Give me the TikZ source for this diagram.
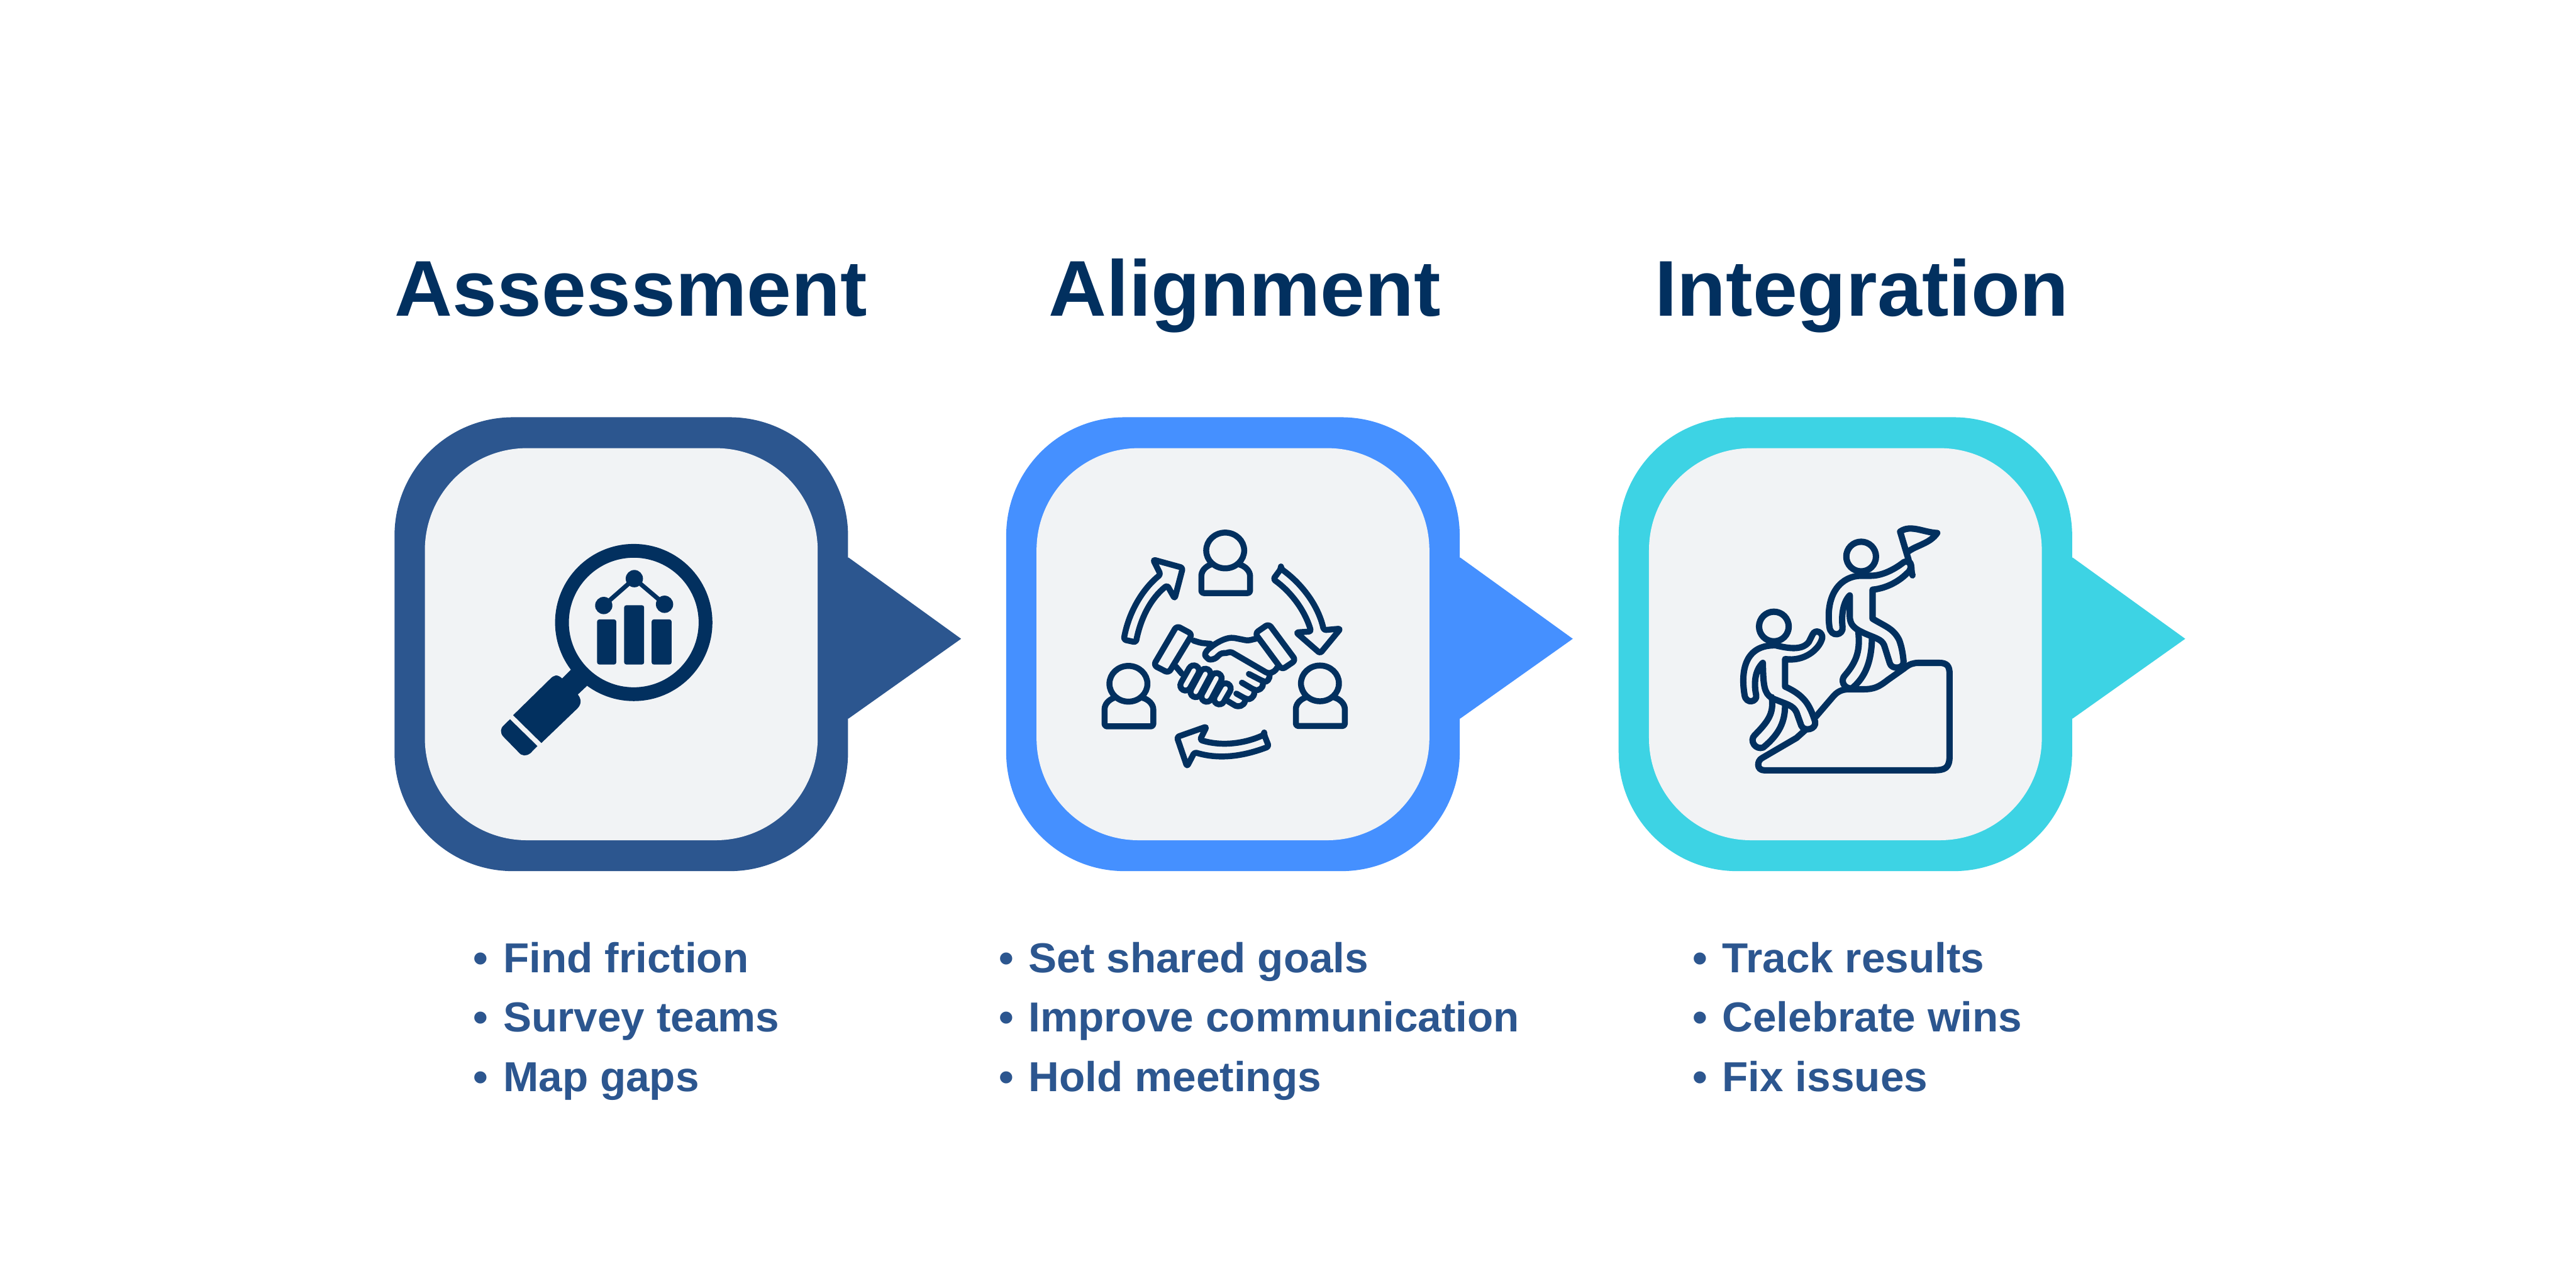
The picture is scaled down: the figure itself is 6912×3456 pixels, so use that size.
\documentclass[tikz,border=0pt]{standalone}
\usepackage{fontspec}
\setmainfont[FakeStretch=1.014]{Liberation Sans}
\usetikzlibrary{positioning, calc}
\definecolor{navy}{HTML}{02305F}
\definecolor{steel}{HTML}{2C568F}
\definecolor{azure}{HTML}{4590FF}
\definecolor{aqua}{HTML}{3DD3E4}
\definecolor{panel}{HTML}{F1F3F5}
\newcommand{\listdot}{\makebox[11.4pt][l]{\textbullet}}

\begin{document}
\begin{tikzpicture}[x=0.005cm, y=-0.005cm]
	\tikzset{
		framebox/.style={rounded corners=1.59cm, minimum width=6.09cm, minimum height=6.095cm, inner sep=0pt},
		innerbox/.style={fill=panel, rounded corners=1.37cm, minimum width=5.275cm, minimum height=5.265cm, inner sep=0pt},
		heading/.style={anchor=base west, inner sep=0pt, text=navy, font=\fontsize{30.2}{36}\selectfont\bfseries},
		listitem/.style={anchor=base west, inner sep=0pt, text=steel, font=\fontsize{16}{20}\selectfont\bfseries},
		iconline/.style={draw=navy, line width=0.08cm, line join=round, line cap=round, rounded corners=0.03cm},
		cuffline/.style={iconline, rounded corners=0.05cm},
		climbline/.style={draw=navy, line width=0.085cm, line join=round, line cap=round}
	}
	\useasboundingbox (0,0) rectangle (6912,3456);
	\fill[white] (0,0) rectangle (6912,3456);

	% Headings
	\node[heading] (assesstitle) at (1058,848) {Assessment};
	\node[heading] (aligntitle) at (2813,848) {Alignment};
	\node[heading] (integtitle) at (4439,848) {Integration};

	% Outer frames
	\node[framebox, fill=steel] (assess) at (1667,1728.5) {};
	\node[framebox, fill=azure, right=2.11cm of assess] (align) {};
	\node[framebox, fill=aqua, right=2.12cm of align] (integ) {};

	% Pointers
	\coordinate (assesstip) at ($(assess.east)+(302,-14.5)$);
	\coordinate (aligntip) at ($(align.east)+(302,-14.5)$);
	\coordinate (integtip) at ($(integ.east)+(302,-14.5)$);
	\fill[steel] ($(assess.east)+(-10,-232.5)$) -- ($(assess.east)+(0,-232.5)$) -- (assesstip) -- ($(assess.east)+(0,199.5)$) -- ($(assess.east)+(-10,199.5)$) -- cycle;
	\fill[azure] ($(align.east)+(-10,-232.5)$) -- ($(align.east)+(0,-232.5)$) -- (aligntip) -- ($(align.east)+(0,199.5)$) -- ($(align.east)+(-10,199.5)$) -- cycle;
	\fill[aqua] ($(integ.east)+(-10,-232.5)$) -- ($(integ.east)+(0,-232.5)$) -- (integtip) -- ($(integ.east)+(0,199.5)$) -- ($(integ.east)+(-10,199.5)$) -- cycle;

	% Inner panels
	\node[innerbox] (assesspanel) at (assess) {};
	\node[innerbox] (alignpanel) at (align) {};
	\node[innerbox] (integpanel) at (integ) {};

	% Magnifier icon
	\begin{scope}[shift={(1000,1080)}, xscale=1.0526, yscale=0.8291]
		\draw[navy, line width=0.185cm] (665.5,712) ellipse (183 and 232);
		\fill[navy, rounded corners=0.03cm] (572,702) rectangle (621,848);
		\fill[navy, rounded corners=0.03cm] (641,656) rectangle (692,848);
		\fill[navy, rounded corners=0.03cm] (711,702) rectangle (762,848);
		\draw[navy, line width=0.06cm] (589,657) -- (667,570) -- (744,653);
		\fill[navy] (589,657) ellipse (22 and 28);
		\fill[navy] (667,570) ellipse (22 and 28);
		\fill[navy] (744,653) ellipse (22 and 28);
		\fill[navy] (505,865) -- (483,893) .. controls (470,878) and (462,882) .. (452,895) -- (358,1012) -- (430,1102) -- (522,990) .. controls (533,975) and (532,960) .. (523,945) -- (548,915) -- cycle;
		\fill[navy] (350,1025) -- (420,1112) -- (402,1135) .. controls (392,1145) and (380,1145) .. (372,1132) -- (332,1080) .. controls (325,1068) and (325,1055) .. (334,1045) -- cycle;
	\end{scope}

	% Handshake icon: people and arrows
	\begin{scope}[shift={(2850,1350)}, xscale=0.5421, yscale=0.5102]
		% people
		\draw[iconline] (807,249) ellipse (94 and 94);
		\draw[iconline] (738,322) .. controls (705,335) and (689,360) .. (689,395) -- (689,473) -- (930,473) -- (930,395) .. controls (930,360) and (910,332) .. (875,322);
		\draw[iconline] (328,950) ellipse (94 and 94);
		\draw[iconline] (259,1023) .. controls (226,1036) and (210,1061) .. (210,1096) -- (210,1174) -- (451,1174) -- (451,1096) .. controls (451,1061) and (431,1033) .. (396,1023);
		\draw[iconline] (1276,948) ellipse (94 and 94);
		\draw[iconline] (1207,1021) .. controls (1174,1034) and (1157,1059) .. (1157,1094) -- (1157,1172) -- (1399,1172) -- (1399,1094) .. controls (1399,1059) and (1379,1031) .. (1344,1021);
		% arrows
		\draw[iconline] (305,718) .. controls (330,570) and (400,450) .. (487,375) -- (450,297) -- (597,340) -- (557,502) -- (520,432) .. controls (440,500) and (390,600) .. (365,732) -- cycle;
		\draw[iconline] (1083,345) -- (1045,400) .. controls (1130,465) and (1200,560) .. (1232,675) -- (1158,680) -- (1277,790) -- (1378,660) -- (1295,668) .. controls (1265,530) and (1180,420) .. (1083,345) -- cycle;
		\draw[iconline] (1000,1218) -- (1023,1280) .. controls (900,1330) and (780,1350) .. (655,1310) -- (618,1385) -- (568,1230) -- (715,1175) -- (682,1245) .. controls (790,1280) and (900,1265) .. (1000,1218) -- cycle;
	\end{scope}

	% Handshake icon: hands
	\begin{scope}[shift={(3100,1640)}, xscale=0.3333, yscale=0.3333]
		% cuffs
		\draw[cuffline] (172,118) -- (297,185) -- (107,497) -- (-14,435) -- cycle;
		\draw[cuffline] (913,102) -- (1130,395) -- (1019,470) -- (803,178) -- cycle;
		% hands
		\draw[iconline] (308,237) -- (370,256) -- (445,262);
		\draw[iconline] (815,220) -- (745,237) -- (630,214) .. controls (560,215) and (490,255) .. (440,295) .. controls (405,325) and (395,350) .. (415,375) .. controls (440,395) and (480,385) .. (505,360) -- (535,335) -- (565,340) -- (605,325) -- (905,500) .. controls (940,495) and (970,480) .. (980,455);
		\draw[iconline] (753,505) -- (865,563) .. controls (895,570) and (925,550) .. (918,510);
		\draw[iconline] (697,575) -- (790,630) .. controls (825,640) and (868,625) .. (866,583);
		\draw[iconline] (652,663) -- (725,704) .. controls (760,712) and (795,695) .. (797,655);
		\draw[iconline] (585,725) -- (630,752) .. controls (665,772) and (715,765) .. (722,722);
		\draw[iconline] (165,445) -- (215,505);
		% fingers
		\draw[navy, line width=0.22cm, line cap=round] (310,478) -- (243,597);
		\draw[navy, line width=0.22cm, line cap=round] (403,505) -- (325,650);
		\draw[navy, line width=0.22cm, line cap=round] (492,540) -- (413,687);
		\draw[navy, line width=0.22cm, line cap=round] (565,622) -- (515,708);
		\draw[panel, line width=0.06cm, line cap=round] (310,478) -- (243,597);
		\draw[panel, line width=0.06cm, line cap=round] (403,505) -- (325,650);
		\draw[panel, line width=0.06cm, line cap=round] (492,540) -- (413,687);
		\draw[panel, line width=0.06cm, line cap=round] (565,622) -- (515,708);
	\end{scope}

	% Climbing icon
	\begin{scope}[shift={(4550,1350)}, xscale=0.5102, yscale=0.5102]
		% hill
		\draw[climbline] (630,1125) -- (720,1020) .. controls (745,990) and (770,979) .. (805,979) -- (880,979) .. controls (940,979) and (965,965) .. (1010,930) -- (1095,870) .. controls (1125,845) and (1145,840) .. (1175,840) -- (1280,840) .. controls (1325,840) and (1335,860) .. (1335,900) -- (1335,1330) .. controls (1335,1395) and (1310,1405) .. (1250,1405) -- (360,1405) .. controls (320,1405) and (320,1355) .. (350,1340) -- (530,1235) -- (580,1190);
		% upper climber
		\draw[climbline] (870,281) circle (78);
		\draw[climbline] (870,382) -- (920,382) .. controls (970,382) and (1030,360) .. (1095,310) .. controls (1125,295) and (1150,340) .. (1110,370) .. controls (1060,420) and (990,450) .. (930,455) -- (930,608) .. controls (1000,650) and (1040,660) .. (1070,720) .. controls (1085,760) and (1090,800) .. (1093,830) .. controls (1100,870) and (1030,880) .. (1020,840) -- (995,760) .. controls (985,720) and (960,715) .. (900,690) .. controls (830,660) and (810,640) .. (810,590) -- (810,485) .. controls (775,520) and (765,590) .. (772,650) .. controls (780,695) and (710,710) .. (703,650) .. controls (680,470) and (770,382) .. (870,382);
		\draw[climbline] (855,675) .. controls (865,770) and (850,830) .. (785,905) .. controls (760,930) and (775,975) .. (820,975) .. controls (875,930) and (925,860) .. (927,705);
		% flag
		\draw[climbline] (1075,150) -- (1120,300);
		\draw[climbline] (1075,150) .. controls (1130,110) and (1200,155) .. (1270,157) .. controls (1230,215) and (1160,220) .. (1110,260);
		\draw[climbline] (1125,310) .. controls (1140,330) and (1130,350) .. (1140,380);
		% lower climber
		\draw[climbline] (411,649) circle (78);
		\draw[climbline] (420,748) .. controls (490,765) and (560,775) .. (595,730) -- (615,690) .. controls (630,660) and (670,680) .. (665,710) .. controls (650,770) and (570,835) .. (470,820) -- (470,965) .. controls (570,1010) and (600,1060) .. (628,1150) .. controls (635,1190) and (570,1205) .. (555,1170) -- (530,1100) .. controls (510,1060) and (480,1060) .. (400,1025) .. controls (360,1000) and (355,960) .. (353,840) .. controls (310,880) and (305,950) .. (318,1010) .. controls (325,1045) and (265,1060) .. (257,1010) .. controls (235,880) and (260,745) .. (420,748);
		\draw[climbline] (400,1020) .. controls (410,1100) and (390,1140) .. (310,1220) .. controls (280,1250) and (315,1300) .. (355,1285) .. controls (440,1215) and (470,1150) .. (470,1060);
	\end{scope}

	% Lists
	\node[listitem] (assessa) at (1269,2610) {\listdot Find friction};
	\node[listitem] (assessb) at (1269,2769) {\listdot Survey teams};
	\node[listitem] (assessc) at (1269,2928) {\listdot Map gaps};
	\node[listitem] (aligna) at (2679,2610) {\listdot Set shared goals};
	\node[listitem] (alignb) at (2679,2769) {\listdot Improve communication};
	\node[listitem] (alignc) at (2679,2928) {\listdot Hold meetings};
	\node[listitem] (intega) at (4540,2610) {\listdot Track results};
	\node[listitem] (integb) at (4540,2769) {\listdot Celebrate wins};
	\node[listitem] (integc) at (4540,2928) {\listdot Fix issues};
\end{tikzpicture}
\end{document}
